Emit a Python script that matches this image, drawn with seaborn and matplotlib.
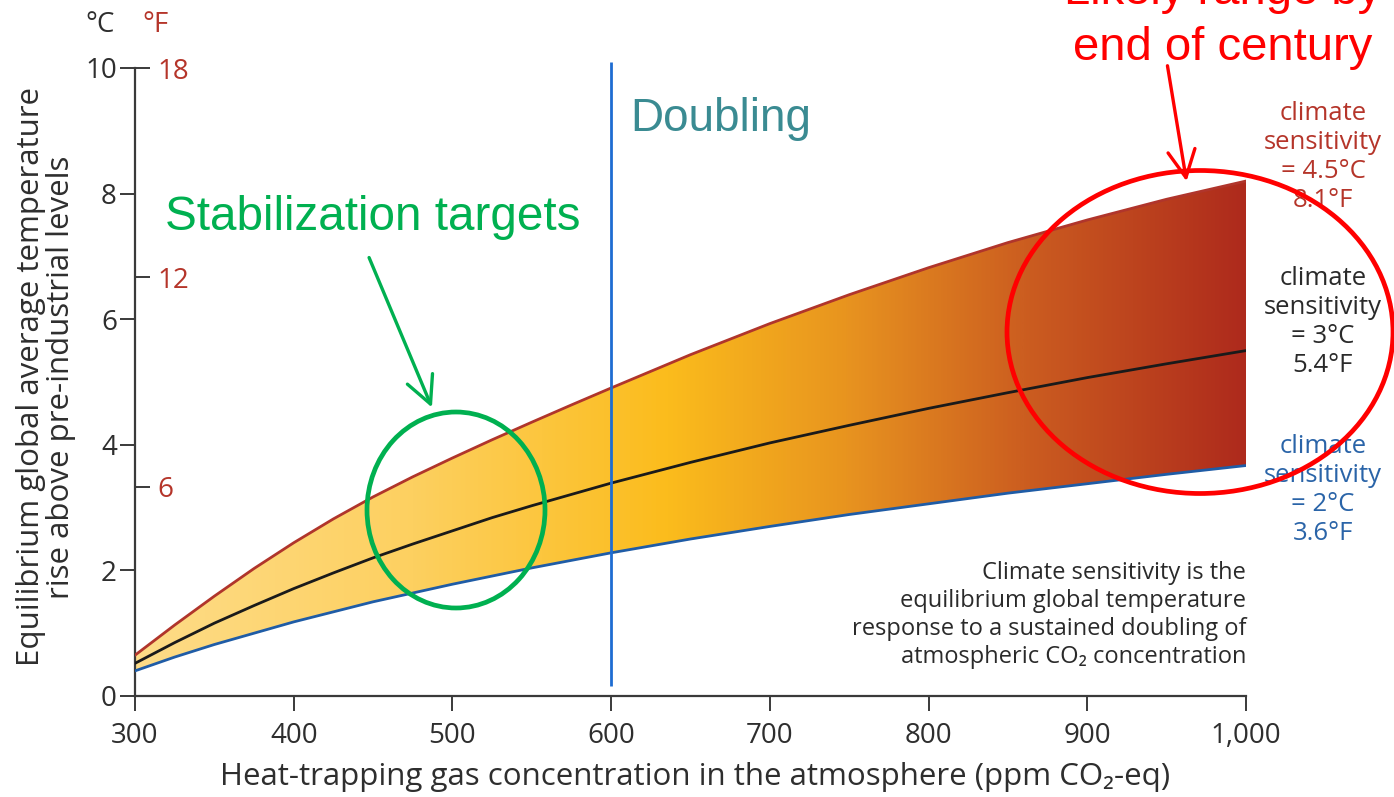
import numpy as np
import pandas as pd
import matplotlib
matplotlib.use("Agg")
import matplotlib.pyplot as plt
import seaborn as sns
from matplotlib.colors import LinearSegmentedColormap
from matplotlib.patches import Ellipse, FancyArrowPatch

# ---- data -------------------------------------------------------------
ppm = [300, 325, 350, 375, 400, 425, 450, 475, 500, 525, 550, 575, 600,
       650, 700, 750, 800, 850, 900, 950, 1000]
temp_sens_45 = [0.65, 1.13, 1.59, 2.03, 2.44, 2.82, 3.17, 3.49, 3.79, 4.08, 4.36, 4.635, 4.905,
                5.435, 5.93, 6.39, 6.82, 7.22, 7.58, 7.91, 8.20]
temp_sens_30 = [0.52, 0.85, 1.16, 1.44, 1.71, 1.96, 2.20, 2.42, 2.63, 2.84, 3.03, 3.21, 3.39,
                3.72, 4.03, 4.31, 4.58, 4.83, 5.07, 5.29, 5.50]
temp_sens_20 = [0.40, 0.62, 0.82, 1.00, 1.18, 1.34, 1.50, 1.64, 1.78, 1.91, 2.04, 2.16, 2.28,
                2.50, 2.70, 2.89, 3.06, 3.23, 3.38, 3.53, 3.67]

x_ticks = [300, 400, 500, 600, 700, 800, 900, 1000]
x_tick_labels = ["300", "400", "500", "600", "700", "800", "900", "1,000"]
c_ticks = [0, 2, 4, 6, 8, 10]
f_ticks = [6, 12, 18]
doubling_ppm = 600

sens_labels = ["4.5", "3", "2"]
sens_colors = {"4.5": "#B0352B", "3": "#1A1A1A", "2": "#1F5CA6"}

# ---- figure -----------------------------------------------------------
W, H = 1394, 797
sns.set_theme(style="white")
plt.rcParams["font.family"] = ["Open Sans", "DejaVu Sans"]

fig = plt.figure(figsize=(W / 100, H / 100), dpi=100)


def fx(px):
    return px / W


def fy(py):
    return 1 - py / H


ax = fig.add_axes([fx(135), fy(696), (1246 - 135) / W, (696 - 68) / H])
ax.set_xlim(300, 1000)
ax.set_ylim(0, 10)

# gradient-filled band between the low and high sensitivity curves
band_cmap = LinearSegmentedColormap.from_list(
    "band",
    [(0.0, "#FEDC88"), (0.25, "#FDD060"), (0.48, "#FBBC1C"),
     (0.64, "#E8941F"), (0.80, "#CC5E20"), (1.0, "#AE2A1C")],
)
band = ax.fill_between(ppm, temp_sens_20, temp_sens_45, facecolor="none", edgecolor="none")
grad = ax.imshow(np.linspace(0, 1, 512)[None, :], cmap=band_cmap,
                 extent=[300, 1000, 0, 10], aspect="auto", origin="lower",
                 zorder=1, interpolation="bilinear")
grad.set_clip_path(band.get_paths()[0], transform=ax.transData)

# sensitivity curves
df = pd.DataFrame({
    "ppm": ppm * 3,
    "temp": temp_sens_45 + temp_sens_30 + temp_sens_20,
    "sens": [s for s in sens_labels for _ in ppm],
})
sns.lineplot(data=df, x="ppm", y="temp", hue="sens", palette=sens_colors,
             linewidth=2.0, legend=False, ax=ax, zorder=3)

# doubling line
ax.vlines(doubling_ppm, 0.16, 10.1, color="#1E6CD2", linewidth=2.0,
          clip_on=False, zorder=4)

ax.set_xlim(300, 1000)
ax.set_ylim(0, 10)
ax.set_xlabel("")
ax.set_ylabel("")
ax.set_xticks(x_ticks, x_tick_labels)
ax.set_yticks(c_ticks)
axis_grey = "#3a3a3a"
ax.tick_params(axis="both", which="major", direction="out", length=11, width=1.4,
               color=axis_grey, labelsize=20, labelcolor="#2e2e2e",
               bottom=True, left=True)
ax.tick_params(axis="x", pad=8)
ax.tick_params(axis="y", pad=2)
for s in ["top", "right"]:
    ax.spines[s].set_visible(False)
for s in ["left", "bottom"]:
    ax.spines[s].set_linewidth(1.6)
    ax.spines[s].set_color(axis_grey)

# Fahrenheit scale drawn on the inner side of the Celsius axis
axf = ax.twinx()
axf.set_ylim(0, 18)
axf.set_yticks(f_ticks)
axf.spines["right"].set_position(("axes", 0.0))
for s in ["top", "left", "bottom", "right"]:
    axf.spines[s].set_visible(False)
axf.tick_params(axis="y", right=True, labelright=True, left=False, labelleft=False,
                direction="out", length=11, width=1.4, color=axis_grey,
                labelsize=20, labelcolor="#B5352A", pad=5)
axf.grid(False)
ax.grid(False)

# unit headers
fig.text(fx(100), fy(25), "°C", ha="center", va="center", fontsize=20, color="#2e2e2e")
fig.text(fx(156), fy(25), "°F", ha="center", va="center", fontsize=20, color="#B5352A")

# axis titles
fig.text(fx(46), fy(377), "Equilibrium global average temperature\nrise above pre-industrial levels",
         rotation=90, ha="center", va="center", fontsize=22.5, color="#2e2e2e",
         linespacing=1.0)
fig.text(fx(695), fy(777), "Heat-trapping gas concentration in the atmosphere (ppm CO₂-eq)",
         ha="center", va="center", fontsize=22.5, color="#2e2e2e")

# sensitivity labels on the right
label_kw = dict(ha="center", va="center", fontsize=18.5, linespacing=1.2)
fig.text(fx(1323), fy(157), "climate\nsensitivity\n= 4.5°C\n8.1°F", color="#B5352A", **label_kw)
fig.text(fx(1323), fy(322), "climate\nsensitivity\n= 3°C\n5.4°F", color="#2a2a2a", **label_kw)
fig.text(fx(1323), fy(490), "climate\nsensitivity\n= 2°C\n3.6°F", color="#2A64A8", **label_kw)

# explanatory note
fig.text(fx(1246), fy(615),
         "Climate sensitivity is the\nequilibrium global temperature\n"
         "response to a sustained doubling of\natmospheric CO₂ concentration",
         ha="right", va="center", fontsize=17, color="#2a2a2a", linespacing=1.22)

# callouts
sans = ["Liberation Sans", "DejaVu Sans"]
fig.text(fx(630), fy(131), "Doubling", ha="left", va="baseline", fontsize=33,
         color="#3A8B92", family=sans)
fig.text(fx(165), fy(230), "Stabilization targets", ha="left", va="baseline",
         fontsize=34.3, color="#00B050", family=sans)
fig.text(fx(1223), fy(4), "Likely range by", ha="center", va="baseline",
         fontsize=34, color="#FF0000", family=sans)
fig.text(fx(1223), fy(60), "end of century", ha="center", va="baseline",
         fontsize=34, color="#FF0000", family=sans)

fig.add_artist(Ellipse((fx(456), fy(510)), 178 / W, 196 / H, transform=fig.transFigure,
                       fill=False, edgecolor="#00B050", linewidth=3.4, zorder=6))
fig.add_artist(Ellipse((fx(1200), fy(332)), 386 / W, 323 / H, transform=fig.transFigure,
                       fill=False, edgecolor="#FF0000", linewidth=3.4, zorder=6))

fig.add_artist(FancyArrowPatch((fx(368), fy(255)), (fx(433), fy(410)),
                               transform=fig.transFigure,
                               arrowstyle="->,head_length=0.7,head_width=0.35",
                               mutation_scale=28, color="#00B050", linewidth=2.4, zorder=6))
fig.add_artist(FancyArrowPatch((fx(1167), fy(63)), (fx(1187), fy(184)),
                               transform=fig.transFigure,
                               arrowstyle="->,head_length=0.7,head_width=0.35",
                               mutation_scale=28, color="#FF0000", linewidth=2.4, zorder=6))

fig.savefig("out.png", dpi=100)
